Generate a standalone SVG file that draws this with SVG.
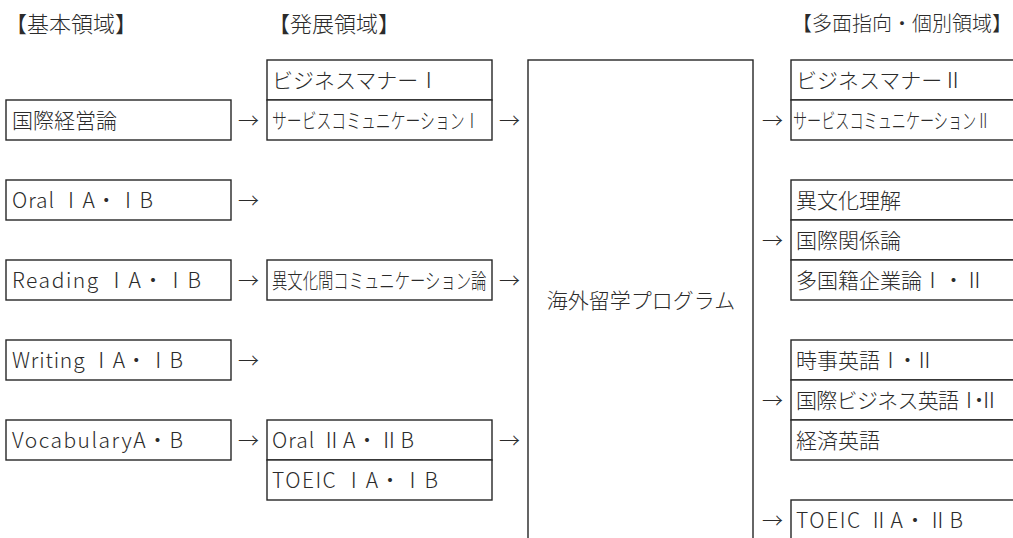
<svg xmlns="http://www.w3.org/2000/svg" width="1013" height="538" viewBox="0 0 1013 538">
<style>
  text { font-family: "Noto Sans CJK JP", "Noto Sans", sans-serif; font-weight: 300; fill: #2b2b2b; font-size: 21px; }
  .hd { font-size: 22px; }
  .hd2 { font-size: 20px; }
  .box { fill: #ffffff; stroke: #262626; stroke-width: 1.4; }
  .arr { font-size: 21px; }
  .ctr { text-anchor: middle; }
</style>
<rect width="1013" height="538" fill="#ffffff"/>

<g id="headers">
  <text class="hd" x="5" y="32">【基本領域】</text>
  <text class="hd" x="268" y="32">【発展領域】</text>
  <text class="hd2" x="792" y="31">【多面指向・個別領域】</text>
</g>

<!-- basic column -->
<g id="n-kokusai-keiei"><rect class="box" x="6" y="100" width="225" height="40"/><text x="12" y="128">国際経営論</text></g>
<g id="n-oral1"><rect class="box" x="6" y="180" width="225" height="40"/><text x="12" y="208" textLength="141">Oral ⅠA・ⅠB</text></g>
<g id="n-reading1"><rect class="box" x="6" y="260" width="225" height="40"/><text x="12" y="288" textLength="189">Reading ⅠA・ⅠB</text></g>
<g id="n-writing1"><rect class="box" x="6" y="340" width="225" height="40"/><text x="12" y="368" textLength="171">Writing ⅠA・ⅠB</text></g>
<g id="n-vocabulary"><rect class="box" x="6" y="420" width="225" height="40"/><text x="12" y="448" textLength="171">VocabularyA・B</text></g>

<!-- development column -->
<g id="n-bizmanner1"><rect class="box" x="267" y="60" width="225" height="40"/><text x="272" y="88">ビジネスマナーⅠ</text></g>
<g id="n-servicecomm1"><rect class="box" x="267" y="100" width="225" height="40"/><text transform="translate(272 128) scale(0.707 1)" x="0" y="0">サービスコミュニケーションⅠ</text></g>
<g id="n-ibunkakan"><rect class="box" x="267" y="260" width="225" height="40"/><text transform="translate(272 288) scale(0.731 1)" x="0" y="0">異文化間コミュニケーション論</text></g>
<g id="n-oral2"><rect class="box" x="267" y="420" width="225" height="40"/><text x="272" y="448" textLength="142">Oral ⅡA・ⅡB</text></g>
<g id="n-toeic1"><rect class="box" x="267" y="460" width="225" height="40"/><text x="272" y="488" textLength="166">TOEIC ⅠA・ⅠB</text></g>

<!-- study abroad -->
<g id="n-ryugaku"><rect class="box" x="528" y="60" width="225" height="500"/><text class="ctr" x="641" y="308">海外留学プログラム</text></g>

<!-- multi / individual column -->
<g id="n-bizmanner2"><rect class="box" x="791" y="60" width="240" height="40"/><text x="796" y="88">ビジネスマナーⅡ</text></g>
<g id="n-servicecomm2"><rect class="box" x="791" y="100" width="240" height="40"/><text transform="translate(793 128) scale(0.673 1)" x="0" y="0">サービスコミュニケーションⅡ</text></g>
<g id="n-ibunka-rikai"><rect class="box" x="791" y="180" width="240" height="40"/><text x="796" y="208">異文化理解</text></g>
<g id="n-kokusai-kankei"><rect class="box" x="791" y="220" width="240" height="40"/><text x="796" y="248">国際関係論</text></g>
<g id="n-takokuseki"><rect class="box" x="791" y="260" width="240" height="40"/><text x="796" y="288">多国籍企業論Ⅰ・Ⅱ</text></g>
<g id="n-jiji-eigo"><rect class="box" x="791" y="340" width="240" height="40"/><text x="796" y="368">時事英語<tspan letter-spacing="-4">Ⅰ・Ⅱ</tspan></text></g>
<g id="n-kokusai-biz-eigo"><rect class="box" x="791" y="380" width="240" height="40"/><text x="796" y="408" letter-spacing="-0.7">国際ビジネス英語<tspan letter-spacing="-11">Ⅰ・Ⅱ</tspan></text></g>
<g id="n-keizai-eigo"><rect class="box" x="791" y="420" width="240" height="40"/><text x="796" y="448">経済英語</text></g>
<g id="n-toeic2"><rect class="box" x="791" y="500" width="240" height="60"/><text x="796" y="528" textLength="167">TOEIC ⅡA・ⅡB</text></g>

<g id="connectors">
  <text class="arr" x="238" y="128">→</text>
  <text class="arr" x="238" y="208">→</text>
  <text class="arr" x="238" y="288">→</text>
  <text class="arr" x="238" y="368">→</text>
  <text class="arr" x="238" y="448">→</text>
  <text class="arr" x="499" y="128">→</text>
  <text class="arr" x="499" y="288">→</text>
  <text class="arr" x="499" y="448">→</text>
  <text class="arr" x="762" y="128">→</text>
  <text class="arr" x="762" y="248">→</text>
  <text class="arr" x="762" y="408">→</text>
  <text class="arr" x="762" y="528">→</text>
</g>
</svg>
